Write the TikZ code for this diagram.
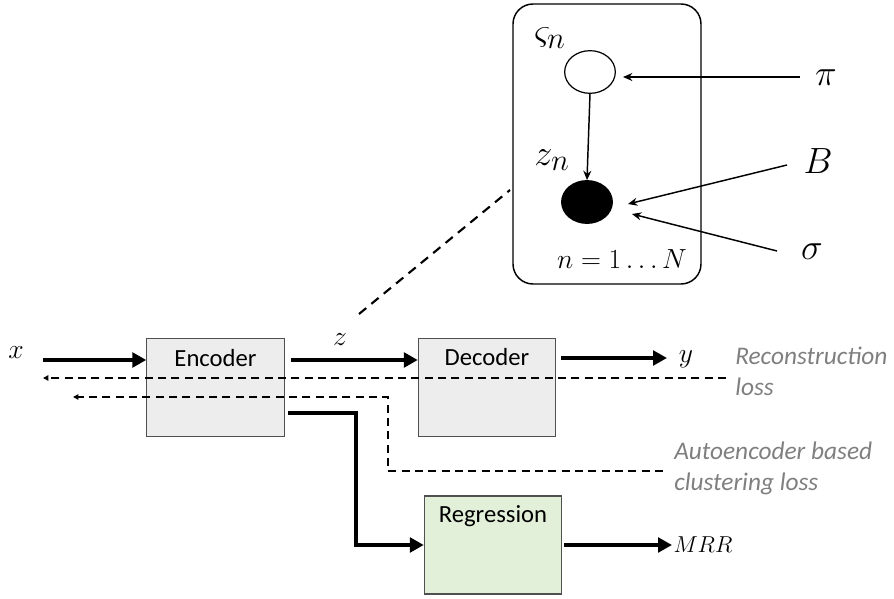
\documentclass[tikz,border=0pt]{standalone}
\usepackage{fontspec}
\setmainfont{Carlito}
\usetikzlibrary{arrows.meta,shapes.geometric}
\definecolor{boxgray}{HTML}{EDEDED}
\definecolor{boxgreen}{HTML}{E2EFD9}
\definecolor{bordergray}{HTML}{505050}
\definecolor{losstext}{HTML}{7F7F7F}
\newcommand{\plbl}[1]{\scalebox{1.1}{#1}}
\tikzset{
  blockbox/.style={draw=bordergray, line width=0.8pt, minimum width=103pt, minimum height=74pt, inner sep=0pt},
  blocktext/.style={font=\fontsize{18.5}{22}\selectfont, anchor=center, inner sep=0pt},
  bigarrow/.style={line width=3.6pt, -{Triangle[length=10.5pt,width=11pt]}},
  lossline/.style={line width=1.1pt, dash pattern=on 6pt off 4pt, -{Triangle[length=4pt,width=4pt]}},
  thinarrow/.style={line width=1.1pt, -{Stealth[length=7pt,width=6pt]}},
  mathbig/.style={font=\fontsize{24.88}{30}\selectfont, inner sep=0pt},
  mathmid/.style={font=\fontsize{20.74}{25}\selectfont, inner sep=0pt},
  losslabel/.style={font=\fontsize{19}{23}\selectfont\itshape, text=losstext, align=left, anchor=north west, inner sep=0pt},
  pgmnode/.style={ellipse, draw=black, line width=0.9pt, minimum width=38pt, minimum height=32pt, inner sep=0pt}
}
\begin{document}
\begin{tikzpicture}[x=0.75pt,y=-0.75pt]
\useasboundingbox (0,0) rectangle (894,599);
% plate
\node[draw=black, line width=1.1pt, rounded corners=15pt, minimum width=141pt, minimum height=210pt, inner sep=0pt] (plate) at (607,144) {};
\node[pgmnode, fill=white] (zeta) at (590,72) {};
\node[pgmnode, fill=black] (zn) at (587,202) {};
\node[mathbig] (zetal) at (550,38) {\plbl{$\varsigma_n$}};
\node[mathbig] (znl) at (552,160) {\plbl{$z_n$}};
\node[mathbig] (pi) at (826,78) {\plbl{$\pi$}};
\node[mathbig] (B) at (818,161) {\plbl{$B$}};
\node[mathbig] (sig) at (812,252) {\plbl{$\sigma$}};
\node[font=\fontsize{20.74}{24}\selectfont, inner sep=0pt] (nN) at (622,259) {$n=1\ldots N$};
\coordinate (piS) at (800,77);
\coordinate (piE) at (623,77);
\coordinate (BS) at (787,165);
\coordinate (BE) at (628,204);
\coordinate (sS) at (777,251);
\coordinate (sE) at (632,214);
\draw[thinarrow] (piS) -- (piE);
\draw[thinarrow] (zeta.south) -- (zn.north);
\draw[thinarrow] (BS) -- (BE);
\draw[thinarrow] (sS) -- (sE);
% blocks
\node[blockbox, fill=boxgray] (enc) at (215.5,387.5) {};
\node[blockbox, fill=boxgray] (dec) at (487,387.5) {};
\node[blockbox, fill=boxgreen, minimum height=73.5pt] (reg) at (493,545) {};
\node[blocktext] (enct) at (215.5,358) {Encoder};
\node[blocktext] (dect) at (487,357) {Decoder};
\node[blocktext] (regt) at (493,516) {Regression};
% dashed link to plate
\coordinate (lk1) at (359,314);
\coordinate (lk2) at (510,190);
\draw[line width=1.6pt, dash pattern=on 7pt off 5pt] (lk1) -- (lk2);
% labels
\node[mathmid] (xl) at (16,353) {$x$};
\node[mathmid] (zl) at (340,340) {$z$};
\node[mathmid] (yl) at (686,359) {$y$};
\node[font=\fontsize{17.28}{22}\selectfont, inner sep=0pt] (mrr) at (703,545) {$MRR$};
% main arrows
\coordinate (xS) at (43,360);
\coordinate (zS) at (291,360);
\coordinate (yS) at (561,358);
\coordinate (yE) at (667,358);
\draw[bigarrow] (xS) -- (enc.west |- xS);
\draw[bigarrow] (zS) -- (dec.west |- zS);
\draw[bigarrow] (yS) -- (yE);
\coordinate (r1) at (288,413);
\coordinate (r2) at (356,413);
\coordinate (r3) at (356,545);
\draw[bigarrow] (r1) -- (r2) -- (r3) -- (reg.west);
\coordinate (mS) at (564,545);
\coordinate (mE) at (672,545);
\draw[bigarrow] (mS) -- (mE);
% loss lines
\coordinate (rc1) at (726,378);
\coordinate (rc2) at (43,378);
\draw[lossline] (rc1) -- (rc2);
\coordinate (cl1) at (663,471);
\coordinate (cl2) at (388,471);
\coordinate (cl3) at (388,397);
\coordinate (cl4) at (73,397);
\draw[lossline] (cl1) -- (cl2) -- (cl3) -- (cl4);
\node[losslabel] (recl) at (735,347) {Reconstruction\\loss};
\node[losslabel] (clul) at (674,442) {Autoencoder based\\clustering loss};
\end{tikzpicture}
\end{document}
